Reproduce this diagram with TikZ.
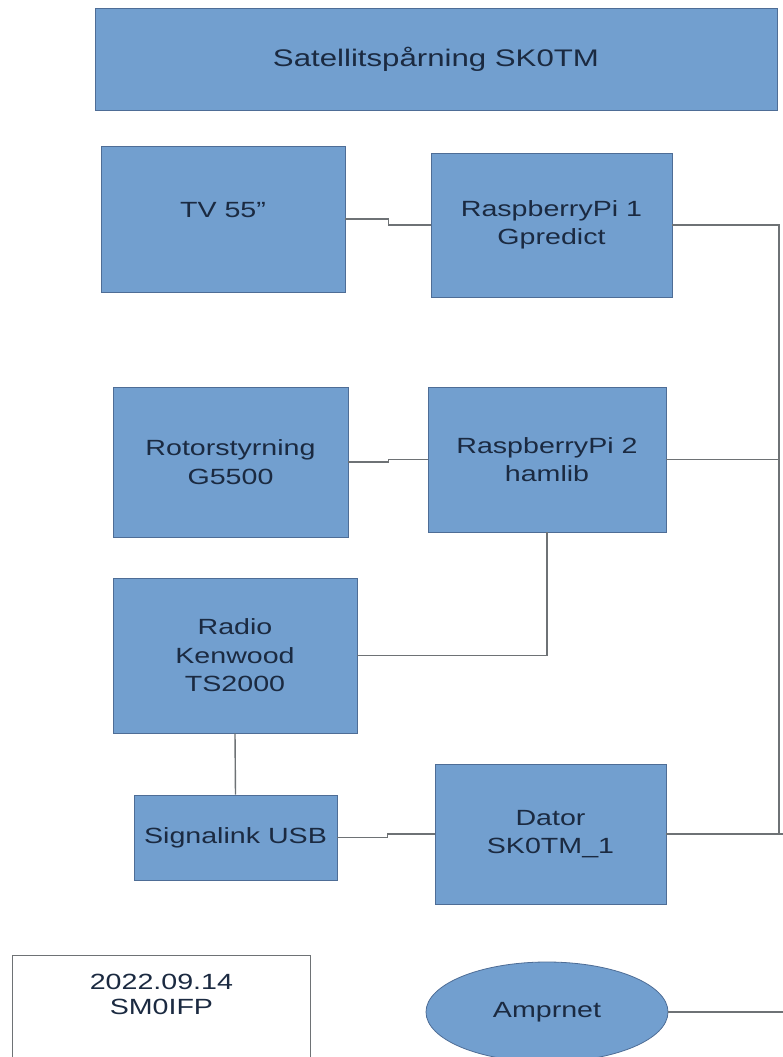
\documentclass[tikz,border=0pt]{standalone}
\usepackage{fontspec}
\setmainfont{Liberation Sans}[FakeStretch=1.3]
\definecolor{boxblue}{HTML}{729FCF}
\definecolor{boxline}{HTML}{4E6D96}
\definecolor{boxtext}{HTML}{1B2A41}
\definecolor{wire}{HTML}{6E7275}
\usetikzlibrary{shapes.geometric}
\begin{document}
\begin{tikzpicture}[x=0.5pt,y=-0.5pt,
    unit/.style={draw=boxline,fill=boxblue,text=boxtext,align=center,inner sep=0pt,
      font=\fontsize{11}{14.2}\selectfont},
    wirel/.style={draw=wire,line width=0.7pt}]
    \useasboundingbox (0,0) rectangle (783,1057);
    \fill[white] (0,0) rectangle (783,1057);
    % boxes
    \node[unit,minimum width=341pt,minimum height=51pt,font=\fontsize{12}{14}\selectfont] (title) at (436,59) {Satellitspårning SK0TM};
    \node[unit,minimum width=122pt,minimum height=73pt,text depth=9pt] (tv) at (223,219) {TV 55”};
    \node[unit,minimum width=120.5pt,minimum height=72pt] (rpi1) at (551.5,225) {RaspberryPi 1\\Gpredict};
    \node[unit,minimum width=117.5pt,minimum height=75pt] (rotor) at (230.5,462) {Rotorstyrning\\G5500};
    \node[unit,minimum width=119pt,minimum height=72.5pt] (rpi2) at (547,459.5) {RaspberryPi 2\\hamlib};
    \node[unit,minimum width=122pt,minimum height=77.5pt] (radio) at (235,655.5) {Radio\\Kenwood\\TS2000};
    \node[unit,minimum width=101.5pt,minimum height=42.5pt] (signal) at (235.5,837.5) {Signalink USB};
    \node[unit,minimum width=115.5pt,minimum height=70pt] (dator) at (550.5,834) {Dator\\SK0TM\_1};
    \node[unit,ellipse,minimum width=121pt,minimum height=50pt] (ampr) at (547,1012) {Amprnet};
    \node[draw=wire,fill=white,anchor=north west,minimum width=149pt,minimum height=60pt] (date) at (12,955) {};
    \node[text=boxtext,align=center,anchor=north,font=\fontsize{11}{12.5}\selectfont] (datetxt) at ([yshift=-6pt]date.north) {2022.09.14\\SM0IFP};
    % connections
    \coordinate (bus) at (779,834);
    \coordinate (edge) at (783,834);
    \draw[wirel] (tv.east) -- ++(43,0) |- (rpi1.west);
    \draw[wirel] (rotor.east) -- ++(40,0) |- (rpi2.west);
    \draw[wirel] (rpi1.east) -| (bus);
    \draw[wirel] (rpi2.east) -- (rpi2.east -| bus);
    \draw[wirel] (rpi2.south) |- (radio.east);
    \draw[wirel] (radio.south) -- (signal.north);
    \draw[wirel] (signal.east) -- ++(50,0) |- (dator.west);
    \draw[wirel] (dator.east) -- (edge);
    \draw[wirel] (ampr.east) -- (ampr.east -| edge);
\end{tikzpicture}
\end{document}
